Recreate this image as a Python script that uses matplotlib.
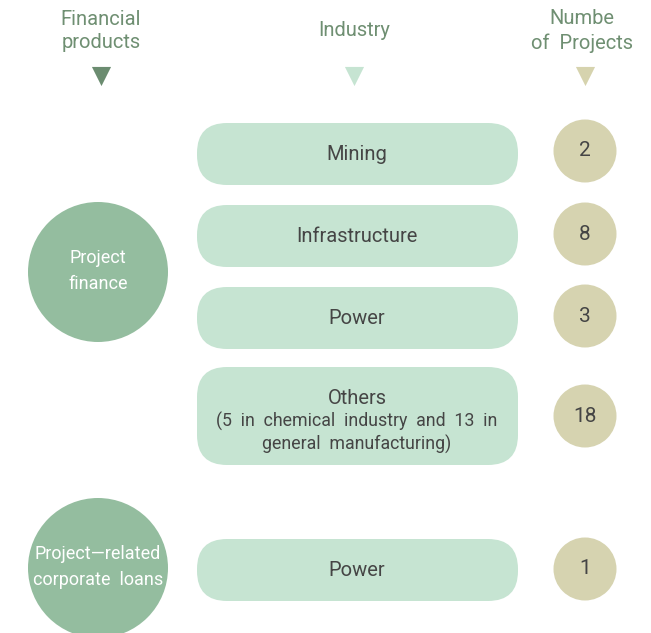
import matplotlib.pyplot as plt
from matplotlib.patches import Circle, FancyBboxPatch

# column headers
headers = ["Financial\nproducts", "Industry", "Numbe\nof  Projects"]
header_colors = ["#6b8c70", "#c6e4d2", "#d6d3ae"]

# rows: industry label, number of projects, product group
industries = ["Mining", "Infrastructure", "Power",
              "Others\n(5  in  chemical  industry  and  13  in\ngeneral  manufacturing)",
              "Power"]
counts = [2, 8, 3, 18, 1]
products = ["Project\nfinance", "Project\u2014related\ncorporate  loans"]

# layout (pixel space of the 651x633 image)
row_y = [154, 236, 318, 416, 570]
row_h = [62, 62, 62, 98, 62]
count_y = [151, 234, 316, 416, 569]
product_y = [272, 568]

fig = plt.figure(figsize=(6.51, 6.33), dpi=100)
ax = fig.add_axes([0, 0, 1, 1])
ax.set_xlim(0, 651)
ax.set_ylim(633, 0)
ax.axis("off")

plt.rcParams["font.family"] = ["Roboto", "DejaVu Sans"]
text_green = "#6f8f72"

# headers + triangles
hx = [101, 354, 582]
for x, h, c in zip(hx, headers, header_colors):
    ax.text(x, 31, h, ha="center", va="center", fontsize=14.5,
            color=text_green, linespacing=1.3)
    ax.scatter([x if x != 582 else 585], [76], marker="v", s=190,
               color=c, linewidths=0)

# industry pills
pill_left, pill_right = 197, 518
for lab, y, h in zip(industries, row_y, row_h):
    r = 30
    box = FancyBboxPatch((pill_left + r, y - h / 2 + r),
                         pill_right - pill_left - 2 * r, h - 2 * r,
                         boxstyle="round,pad=%d" % r,
                         facecolor="#c6e4d2", edgecolor="none")
    ax.add_patch(box)
    if lab.startswith("Others"):
        ax.text(357, y - 18, "Others", ha="center", va="center",
                fontsize=14.5, color="#454545")
        ax.text(357, y + 17, lab.split("\n", 1)[1], ha="center", va="center",
                fontsize=12.8, color="#454545", linespacing=1.25)
    else:
        ax.text(357, y, lab, ha="center", va="center",
                fontsize=14.5, color="#454545")

# project counts
for n, y in zip(counts, count_y):
    ax.add_patch(Circle((585, y), 31.5, facecolor="#d6d3b0", edgecolor="none"))
    ax.text(585, y, str(n), ha="center", va="center", fontsize=15,
            color="#454545")

# financial product circles
for p, y in zip(products, product_y):
    ax.add_patch(Circle((98, y), 70, facecolor="#94bd9f", edgecolor="none"))
    ax.text(98, y - 1, p, ha="center", va="center", fontsize=13,
            color="white", linespacing=1.55)

fig.savefig("out.png", dpi=100)
